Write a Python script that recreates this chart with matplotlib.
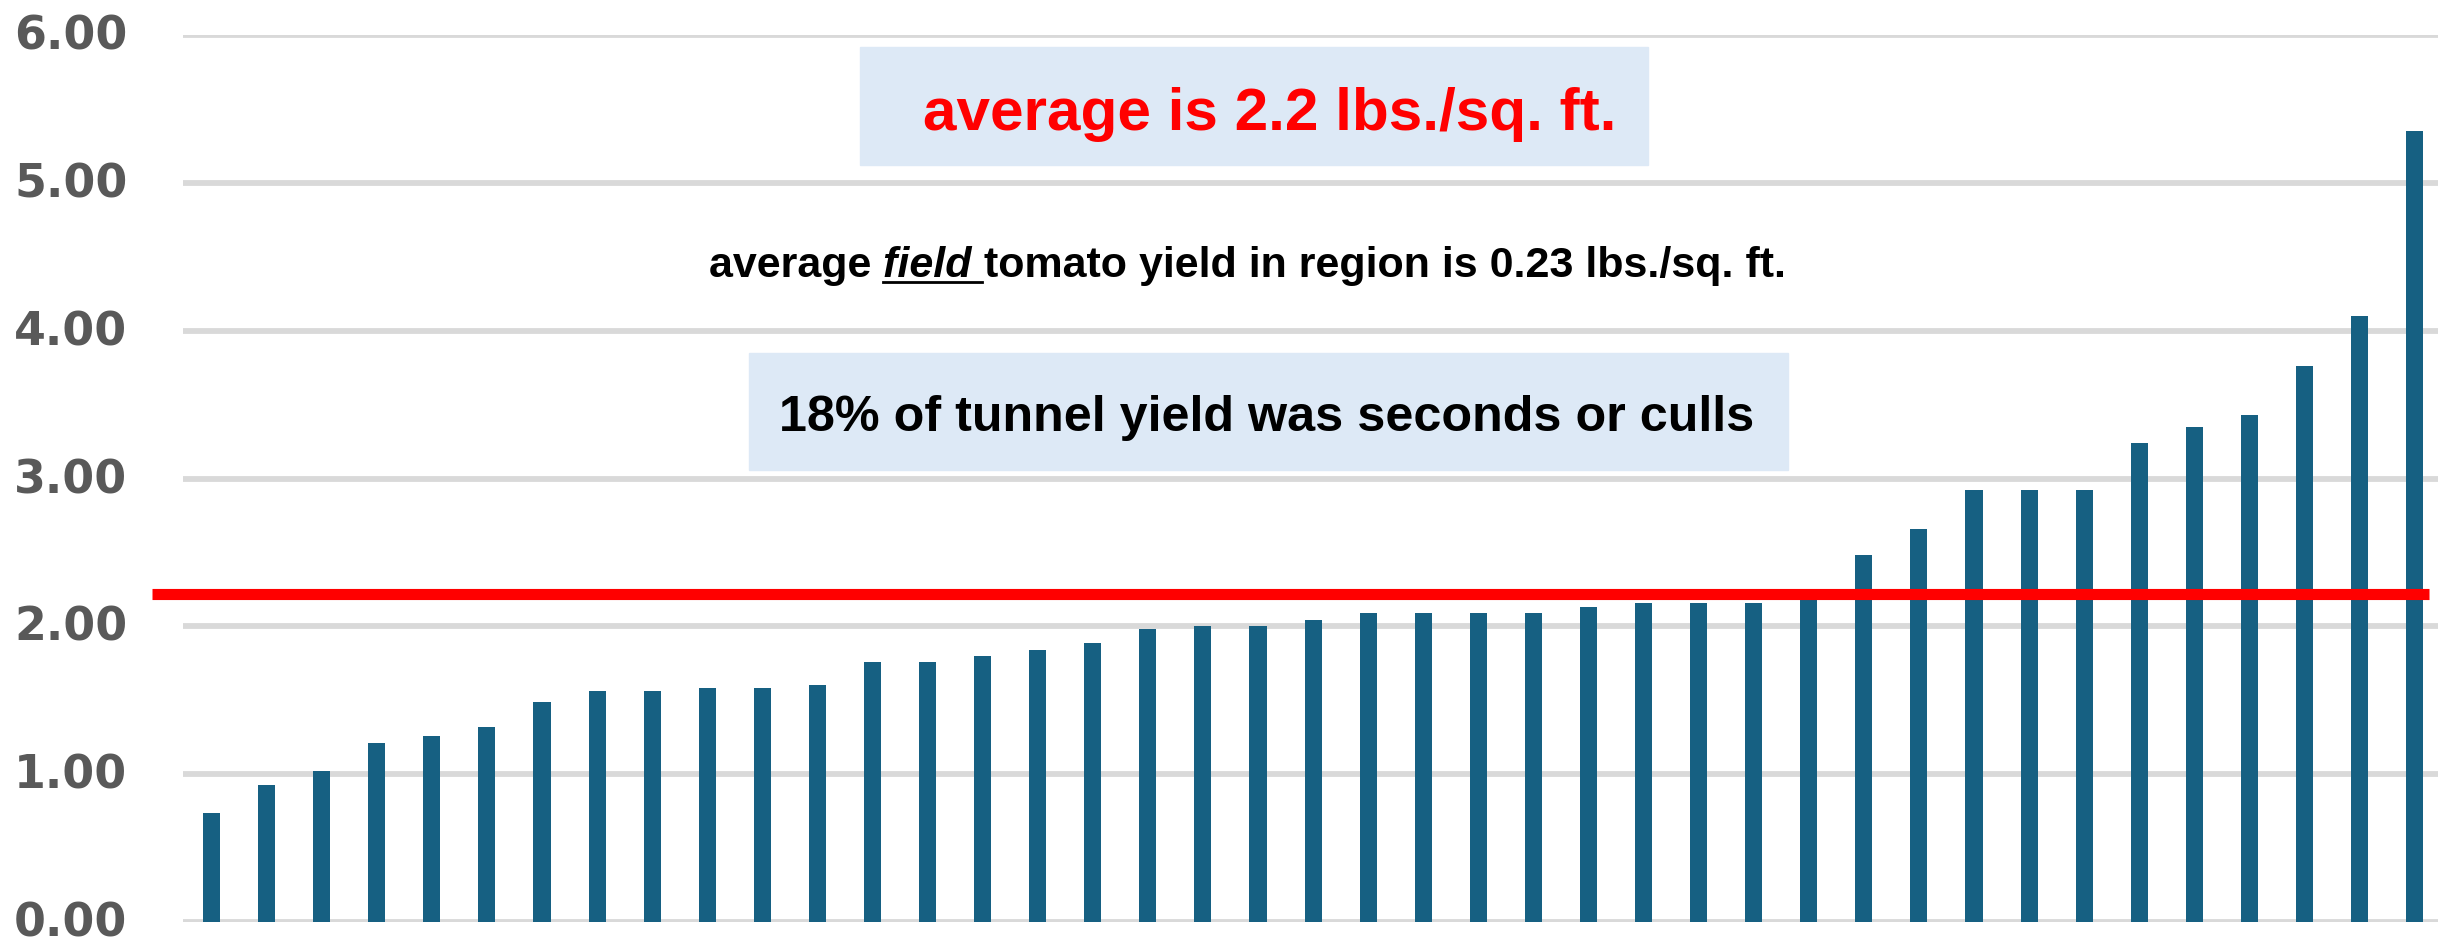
import matplotlib
matplotlib.use("Agg")
import matplotlib.pyplot as plt
from matplotlib.patches import Rectangle
from matplotlib.lines import Line2D
from matplotlib.transforms import ScaledTranslation

# ---- data ----
yields = [0.74, 0.93, 1.02, 1.21, 1.26, 1.32, 1.49, 1.56, 1.56, 1.58, 1.58, 1.60,
          1.76, 1.76, 1.80, 1.84, 1.89, 1.98, 2.00, 2.00, 2.04, 2.09, 2.09, 2.09, 2.09,
          2.13, 2.16, 2.16, 2.16, 2.20, 2.48, 2.66, 2.92, 2.92, 2.92, 3.24, 3.35, 3.43,
          3.76, 4.10, 5.35]
average_line = 2.22
y_ticks = [0, 1, 2, 3, 4, 5, 6]
y_tick_labels = ["0.00", "1.00", "2.00", "3.00", "4.00", "5.00", "6.00"]
note_avg = "average is 2.2 lbs./sq. ft."
note_field = ["average ", "field ", "tomato yield in region is 0.23 lbs./sq. ft."]
note_culls = "18% of tunnel yield was seconds or culls"

# ---- layout ----
W, H = 2438, 943
FONT = ['Liberation Sans', 'DejaVu Sans']
BAR = '#166082'
BOX = '#dde9f6'

fig = plt.figure(figsize=(W / 100, H / 100), dpi=100)
ax = fig.add_axes([183 / W, (H - 922) / H, (W - 183) / W, (922 - 35) / H])
xs = list(range(len(yields)))
ax.bar(xs, yields, width=0.31, color=BAR, zorder=3)
ax.set_xlim(-0.518, len(yields) - 1 + 0.425)
ax.set_ylim(0, 6)
ax.set_yticks(y_ticks)
ax.set_yticklabels(y_tick_labels)
ax.set_xticks([])
for s in ax.spines.values():
    s.set_visible(False)
ax.tick_params(axis='y', length=0, pad=40, labelsize=33, labelcolor='#595959')
shift = ScaledTranslation(0, 3 / 100, fig.dpi_scale_trans)
for lbl in ax.get_yticklabels():
    lbl.set_fontweight('bold')
    lbl.set_family(['DejaVu Sans'])
    lbl.set_transform(lbl.get_transform() + shift)
ax.yaxis.grid(True, color='#d9d9d9', lw=4.2, zorder=0)
ax.set_axisbelow(True)
ax.plot([-1.08, len(yields) - 1 + 0.27], [average_line] * 2, color='#ff0000', lw=8,
        solid_capstyle='butt', clip_on=False, zorder=4)


def fx(px):
    return px / W


def fy(py):
    return 1 - py / H


def box(x0, y0, x1, y1):
    fig.add_artist(Rectangle((fx(x0), fy(y1)), (x1 - x0) / W, (y1 - y0) / H,
                             transform=fig.transFigure, color=BOX, zorder=1))


box(860, 47, 1648, 165)
box(749, 353, 1788, 470)

fig.canvas.draw()
r = fig.canvas.get_renderer()


def fit(t, target_w):
    bb = t.get_window_extent(r)
    t.set_fontsize(t.get_fontsize() * target_w / bb.width)


t1 = fig.text(fx(1270), fy(130), note_avg, ha='center', va='baseline', color='#ff0000',
              fontsize=43, fontweight='bold', family=FONT, zorder=5)
fit(t1, 694)

t3 = fig.text(fx(1267), fy(431), note_culls, ha='center', va='baseline', color='black',
              fontsize=36, fontweight='bold', family=FONT, zorder=5)
fit(t3, 974)

# second line in three parts
size2 = 33
parts = []
styles = ['normal', 'italic', 'normal']
for txt, st in zip(note_field, styles):
    parts.append(fig.text(0, fy(277), txt, ha='left', va='baseline', color='black',
                          fontsize=size2, fontweight='bold', fontstyle=st, family=FONT,
                          zorder=5))
fig.canvas.draw()
total = sum(p.get_window_extent(r).width for p in parts)
scale = 1079 / total
for p in parts:
    p.set_fontsize(size2 * scale)
fig.canvas.draw()
x = 709
ext = []
for p in parts:
    p.set_x(fx(x))
    w = p.get_window_extent(r).width
    ext.append((x, x + w))
    x += w
ux0, ux1 = ext[1]
fig.add_artist(Line2D([fx(ux0), fx(ux1 - 2)], [fy(282), fy(282)], transform=fig.transFigure,
                      color='black', lw=2, zorder=5))

fig.savefig('out.png', dpi=100)
